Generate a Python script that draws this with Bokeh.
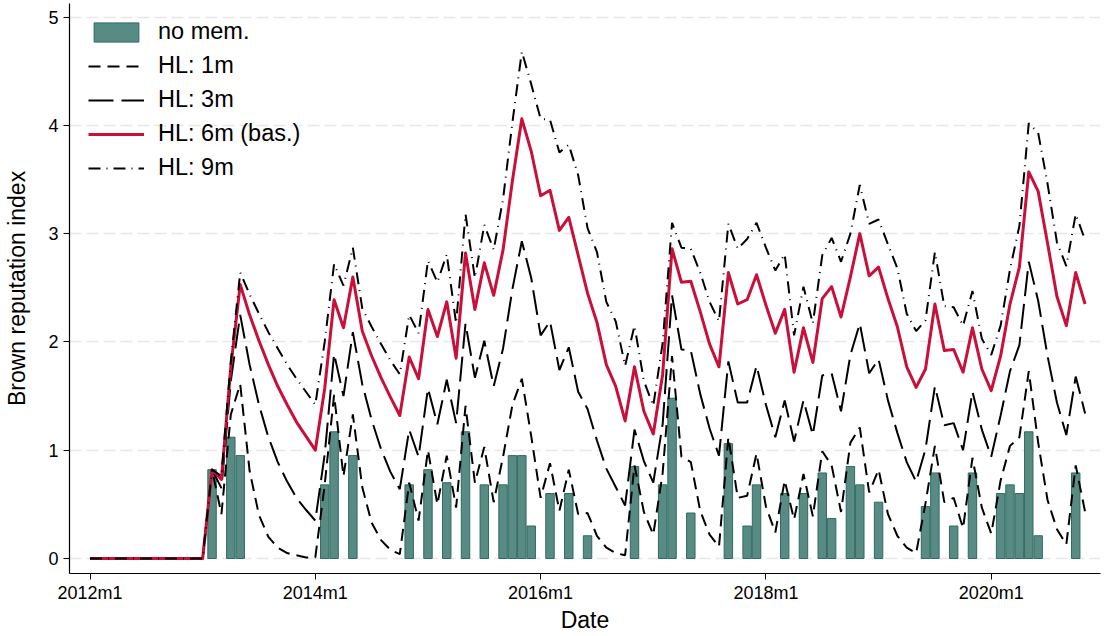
from bokeh.plotting import figure
from bokeh.models import Range1d, FixedTicker, Legend, LegendItem, ColumnDataSource
from bokeh.embed import file_html
from bokeh.resources import INLINE

# ---------------- data (monthly, 2012m1 .. 2020m11) ----------------
months = list(range(107))  # 0 = 2012m1
tick_months = [0, 24, 48, 72, 96]
tick_labels = ["2012m1", "2014m1", "2016m1", "2018m1", "2020m1"]

bar_months = [13, 15, 16, 25, 26, 28, 34, 36, 38, 40, 42, 44, 45, 46, 47, 49, 51, 53,
              58, 61, 62, 64, 68, 70, 71, 74, 76, 78, 79, 81, 82, 84, 89, 90, 92, 94,
              97, 98, 99, 100, 101, 105]
bar_values = [0.82, 1.12, 0.95, 0.68, 1.17, 0.95, 0.68, 0.82, 0.70, 1.17, 0.68, 0.68, 0.95,
              0.95, 0.30, 0.60, 0.60, 0.21, 0.85, 0.68, 1.48, 0.42, 1.06, 0.30, 0.68, 0.60,
              0.60, 0.79, 0.37, 0.85, 0.68, 0.52, 0.48, 0.79, 0.30, 0.79, 0.60, 0.68, 0.60,
              1.17, 0.21, 0.79]

hl1 = [0] * 13 + [
    0.82, 0.41, 1.33, 1.61, 0.81, 0.40, 0.20, 0.10, 0.05, 0.03, 0.01, 0.01,
    0.68, 1.51, 0.76, 1.33, 0.66, 0.33, 0.17, 0.08, 0.04,
    0.70, 0.35, 1.00, 0.50, 0.95, 0.47, 1.41, 0.70, 1.03, 0.52, 0.94,
    1.42, 1.66, 1.13, 0.56, 0.88, 0.44, 0.82, 0.41, 0.42, 0.21, 0.10, 0.05, 0.03,
    0.86, 0.43, 0.22, 0.79, 1.87, 0.94, 0.89, 0.44, 0.22, 0.11,
    1.12, 0.56, 0.58, 0.97, 0.48, 0.24, 0.72, 0.36, 0.78, 0.39,
    0.99, 0.86, 0.43, 1.07, 1.21, 0.61, 0.82, 0.41, 0.21, 0.10, 0.05,
    0.51, 1.04, 0.52, 0.56, 0.28, 0.93, 0.47, 0.23, 0.72, 1.04, 1.12,
    1.73, 1.07, 0.54, 0.27, 0.13, 0.86, 0.43]

hl3 = [0] * 13 + [
    0.82, 0.65, 1.64, 2.25, 1.79, 1.42, 1.12, 0.89, 0.71, 0.56, 0.45, 0.35,
    0.96, 1.89, 1.50, 2.09, 1.61, 1.28, 1.01, 0.80, 0.64,
    1.19, 0.94, 1.57, 1.24, 1.65, 1.25, 2.17, 1.67, 2.01, 1.59, 1.94,
    2.49, 2.93, 2.59, 2.06, 2.19, 1.74, 1.95, 1.54, 1.38, 1.09, 0.83, 0.66, 0.49,
    1.19, 0.90, 0.70, 1.24, 2.43, 1.93, 1.92, 1.52, 1.20, 0.95,
    1.82, 1.44, 1.44, 1.78, 1.42, 1.12, 1.46, 1.08, 1.46, 1.14,
    1.69, 1.71, 1.36, 1.88, 2.17, 1.71, 1.84, 1.46, 1.16, 0.89, 0.71,
    1.01, 1.59, 1.23, 1.25, 1.00, 1.54, 1.19, 0.94, 1.32, 1.73, 1.97,
    2.74, 2.38, 1.87, 1.44, 1.14, 1.68, 1.34]

hl6 = [0] * 13 + [
    0.82, 0.73, 1.77, 2.53, 2.25, 2.01, 1.79, 1.59, 1.42, 1.26, 1.13, 1.00,
    1.57, 2.39, 2.13, 2.60, 2.10, 1.87, 1.67, 1.49, 1.32,
    1.86, 1.66, 2.30, 2.05, 2.37, 1.85, 2.82, 2.30, 2.73, 2.43, 2.85,
    3.49, 4.06, 3.76, 3.35, 3.40, 3.03, 3.15, 2.80, 2.45, 2.18, 1.79, 1.59, 1.27,
    1.77, 1.36, 1.15, 1.70, 2.86, 2.55, 2.56, 2.28, 1.98, 1.77,
    2.64, 2.35, 2.39, 2.62, 2.34, 2.08, 2.30, 1.72, 2.13, 1.81,
    2.40, 2.51, 2.23, 2.60, 3.00, 2.61, 2.69, 2.40, 2.14, 1.77, 1.58,
    1.75, 2.35, 1.92, 1.93, 1.72, 2.13, 1.75, 1.55, 1.87, 2.35, 2.69,
    3.57, 3.39, 2.91, 2.42, 2.15, 2.64, 2.35]

hl9 = [0] * 13 + [
    0.82, 0.76, 1.82, 2.64, 2.44, 2.26, 2.09, 1.94, 1.79, 1.66, 1.54, 1.42,
    2.00, 2.72, 2.52, 2.87, 2.31, 2.14, 1.98, 1.83, 1.70,
    2.25, 2.08, 2.75, 2.55, 2.81, 2.17, 3.18, 2.59, 3.08, 2.85, 3.32,
    4.03, 4.68, 4.38, 4.06, 4.05, 3.75, 3.82, 3.54, 3.05, 2.83, 2.37, 2.19, 1.78,
    2.15, 1.64, 1.41, 1.99, 3.10, 2.87, 2.86, 2.64, 2.37, 2.19,
    3.09, 2.86, 2.95, 3.10, 2.87, 2.66, 2.81, 2.06, 2.51, 2.17,
    2.80, 2.96, 2.74, 3.00, 3.45, 3.09, 3.13, 2.90, 2.68, 2.26, 2.10,
    2.20, 2.83, 2.33, 2.32, 2.15, 2.47, 2.03, 1.88, 2.15, 2.67, 3.07,
    4.02, 3.93, 3.46, 2.92, 2.70, 3.18, 2.94]

# ---------------- figure ----------------
FONT = "Liberation Sans"
p = figure(width=1105, height=636, output_backend="svg", toolbar_location=None,
           x_range=Range1d(-2.184, 107.64), y_range=Range1d(-0.1385, 5.1247),
           min_border_left=69, min_border_right=5, min_border_top=3, min_border_bottom=63)
p.outline_line_color = None
p.background_fill_color = "white"
p.border_fill_color = "white"

bars = p.vbar(x=bar_months, top=bar_values, bottom=0, width=0.9,
              fill_color="#588b83", line_color="#2f6b63", line_width=1)

lsrc = ColumnDataSource(dict(x=months, h1=hl1, h3=hl3, h6=hl6, h9=hl9))
r1 = p.line("x", "h1", source=lsrc, line_color="black", line_width=2, line_dash="12 7")
r3 = p.line("x", "h3", source=lsrc, line_color="black", line_width=2, line_dash="25 8")
r6 = p.line("x", "h6", source=lsrc, line_color="#c8103a", line_width=3, line_join="round")
r9 = p.line("x", "h9", source=lsrc, line_color="black", line_width=2, line_dash="12 6 1 6")

# axes
p.xaxis.ticker = FixedTicker(ticks=tick_months)
p.xaxis.major_label_overrides = {m: t for m, t in zip(tick_months, tick_labels)}
p.yaxis.ticker = FixedTicker(ticks=[0, 1, 2, 3, 4, 5])
for ax in (p.xaxis, p.yaxis):
    ax.axis_line_color = "black"
    ax.axis_line_width = 1.2
    ax.major_tick_line_color = "black"
    ax.major_tick_out = 6
    ax.major_tick_in = 0
    ax.minor_tick_line_color = None
    ax.major_label_text_font = FONT
    ax.major_label_text_font_size = "18px"
    ax.major_label_text_color = "black"
    ax.axis_label_text_font = FONT
    ax.axis_label_text_font_size = "23px"
    ax.axis_label_text_font_style = "normal"
    ax.axis_label_text_color = "black"
p.xaxis.axis_label = "Date"
p.yaxis.axis_label = "Brown reputation index"
p.xaxis.major_label_standoff = 3
p.xaxis.axis_label_standoff = 1
p.yaxis.major_label_standoff = 5
p.yaxis.axis_label_standoff = 15

p.xgrid.grid_line_color = None
p.ygrid.ticker = FixedTicker(ticks=[0, 1, 2, 3, 4, 5])
p.ygrid.grid_line_color = "#e8e8e8"
p.ygrid.grid_line_width = 1.5
p.ygrid.grid_line_dash = "12 5"

legend = Legend(items=[
    LegendItem(label="no mem.", renderers=[bars]),
    LegendItem(label="HL: 1m", renderers=[r1]),
    LegendItem(label="HL: 3m", renderers=[r3]),
    LegendItem(label="HL: 6m (bas.)", renderers=[r6]),
    LegendItem(label="HL: 9m", renderers=[r9]),
], location=(19, 392))
legend.border_line_color = None
legend.background_fill_alpha = 0
legend.padding = 0
legend.margin = 0
legend.spacing = 7
legend.glyph_width = 56
legend.glyph_height = 24
legend.label_standoff = 14
legend.label_text_font = FONT
legend.label_text_font_size = "23.5px"
legend.label_text_color = "black"
p.add_layout(legend)

open("out.html", "w").write(file_html(p, INLINE))
